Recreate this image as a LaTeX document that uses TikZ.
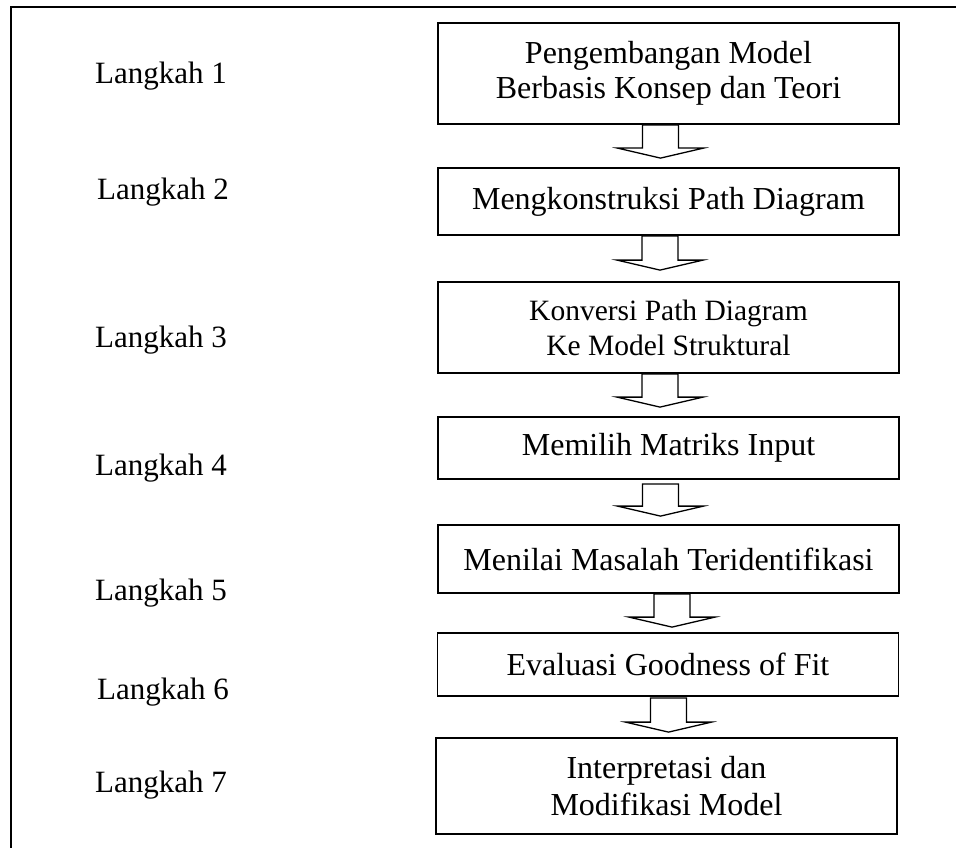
\documentclass[tikz,border=0pt]{standalone}
\usepackage{fontspec}
\setmainfont{Liberation Serif}
\usetikzlibrary{calc}

% Hollow block arrow between two step boxes:
% #1 upper box, #2 lower box, #3 x offset from upper box centre,
% #4 gap below upper box, #5 gap between tip and lower box
\newcommand{\stepflow}[5]{%
  \draw[blockarr] let \p1=($(#1.south)+(#3,#4)$), \p2=($(#2.north)+(#3,-#5)$) in
    (\x1-18pt,\y1) -- (\x1-18pt,\y2+10pt) -- (\x1-43pt,\y2+10pt) -- (\x1,\y2)
    -- (\x1+43pt,\y2+10pt) -- (\x1+18pt,\y2+10pt) -- (\x1+18pt,\y1) -- cycle;}

\begin{document}
\begin{tikzpicture}[x=1pt,y=-1pt,
  txt/.style={font=\fontsize{32}{35}\selectfont},
  stepbox/.style={txt, draw, line width=1.8pt, minimum width=461pt, inner sep=0pt, align=center},
  steplabel/.style={font=\fontsize{31}{35}\selectfont, anchor=base west, inner sep=0pt},
  blockarr/.style={draw, line width=1.3pt, line join=miter}]
\useasboundingbox (0,0) rectangle (956,848);

% outer frame (runs off the page on the right and at the bottom)
\begin{scope}
  \clip (0,0) rectangle (956,848);
  \draw[line width=2pt] (11,7) rectangle (990,900);
\end{scope}

% step boxes
\node[stepbox, minimum height=101pt] (b1) at (668.5,73.5) {Pengembangan Model\\Berbasis Konsep dan Teori};
\node[stepbox, minimum height=67pt]  (b2) at (668.5,201.5) {Mengkonstruksi Path Diagram};
\node[stepbox, minimum height=91pt, font=\fontsize{29.5}{35}\selectfont]  (b3) at (668.5,327.5) {Konversi Path Diagram\\Ke Model Struktural};
\node[stepbox, minimum height=62pt]  (b4) at (668.5,448) {Memilih Matriks Input};
\node[stepbox, minimum height=68pt]  (b5) at (668.5,559) {Menilai Masalah Teridentifikasi};
\node[stepbox, minimum height=63pt]  (b6) at (668,664.5) {Evaluasi Goodness of Fit};
\node[stepbox, minimum height=96pt, font=\fontsize{32}{37}\selectfont]  (b7) at (666.5,786) {Interpretasi dan\\Modifikasi Model};

% step labels
\node[steplabel] (l1) at (95,84) {Langkah 1};
\node[steplabel] (l2) at (97,200) {Langkah 2};
\node[steplabel] (l3) at (95,347) {Langkah 3};
\node[steplabel] (l4) at (95,475) {Langkah 4};
\node[steplabel] (l5) at (95,600) {Langkah 5};
\node[steplabel] (l6) at (97,699) {Langkah 6};
\node[steplabel] (l7) at (95,792) {Langkah 7};

% arrows between steps
\stepflow{b1}{b2}{-8}{0}{9}
\stepflow{b2}{b3}{-8.5}{0}{11}
\stepflow{b3}{b4}{-8.5}{0}{9}
\stepflow{b4}{b5}{-8}{4}{8}
\stepflow{b5}{b6}{3.5}{0}{5}
\stepflow{b6}{b7}{0.5}{1}{5}
\end{tikzpicture}
\end{document}
